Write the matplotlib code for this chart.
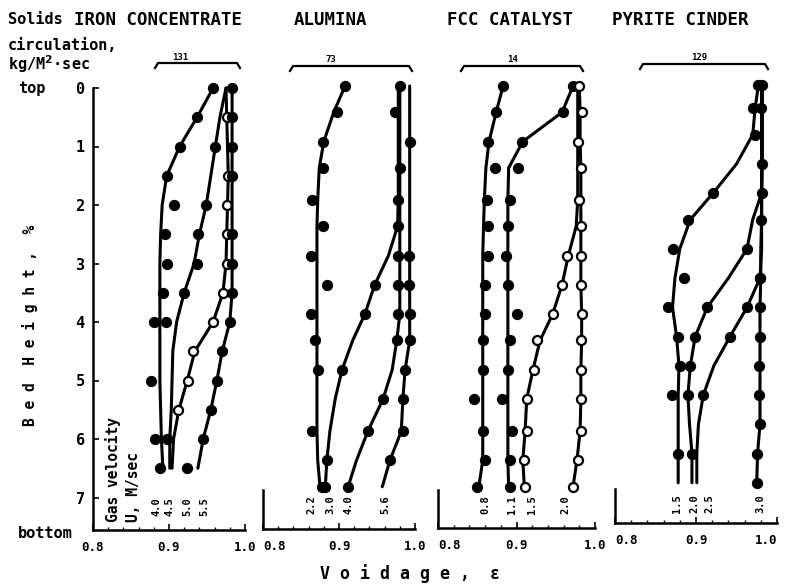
import numpy as np
import matplotlib
matplotlib.use("Agg")
import matplotlib.pyplot as plt
from matplotlib.lines import Line2D

nan = np.nan

# ---- data ----
# Iron concentrate (solids circulation 131)
iron_h = [0, 0.5, 1.0, 1.5, 2.0, 2.5, 3.0, 3.5, 4.0, 4.5, 5.0, 5.5, 6.0, 6.5]
iron_40_line = [0.958, 0.937, 0.914, 0.897, 0.891, 0.889, 0.888, 0.888, 0.888, 0.888, 0.888, 0.889, 0.890, 0.892]
iron_40_pts = [0.958, 0.937, 0.914, 0.897, 0.907, 0.895, 0.897, 0.892, 0.880, nan, 0.876, nan, 0.882, 0.888]
iron_45_line = [0.975, 0.967, 0.961, 0.955, 0.949, 0.940, 0.933, 0.920, 0.910, 0.905, 0.904, 0.903, 0.901, 0.901]
iron_45_pts = [nan, nan, 0.961, nan, 0.949, 0.938, 0.937, 0.920, 0.896, nan, nan, nan, 0.897, 0.924]
iron_50_line = [0.975, 0.976, 0.977, 0.978, 0.977, 0.976, 0.975, 0.971, 0.958, 0.934, 0.924, 0.913, 0.906, 0.904]
iron_50_pts = [nan, 0.976, nan, 0.978, 0.976, 0.976, 0.976, 0.971, 0.958, 0.932, 0.925, 0.912, nan, nan]
iron_55_line = [0.983, 0.983, 0.983, 0.983, 0.983, 0.983, 0.983, 0.983, 0.980, 0.970, 0.963, 0.955, 0.945, 0.938]
iron_55_pts = [0.983, 0.983, 0.983, 0.983, nan, 0.983, 0.983, 0.983, 0.980, 0.970, 0.963, 0.955, 0.945, nan]

# Alumina (73)
alu_h = [0, 0.45, 0.95, 1.4, 1.95, 2.4, 2.9, 3.4, 3.9, 4.35, 4.85, 5.35, 5.9, 6.4, 6.85]
alu_22_line = [0.908, 0.893, 0.880, 0.874, 0.872, 0.871, 0.871, 0.871, 0.871, 0.871, 0.871, 0.871, 0.871, 0.872, 0.875]
alu_22_pts = [0.908, 0.897, 0.879, 0.879, 0.864, 0.879, 0.863, 0.884, 0.863, 0.868, 0.872, nan, 0.864, nan, 0.878]
alu_30_line = [0.978, 0.978, 0.978, 0.978, 0.978, 0.977, 0.965, 0.947, 0.934, 0.918, 0.904, 0.895, 0.888, 0.884, 0.882]
alu_30_pts = [nan, nan, nan, nan, nan, nan, nan, 0.947, 0.934, nan, 0.904, nan, nan, 0.884, 0.882]
alu_40_line = [0.980, 0.980, 0.980, 0.980, 0.980, 0.980, 0.980, 0.980, 0.980, 0.976, 0.970, 0.958, 0.938, 0.923, 0.912]
alu_40_pts = [0.980, 0.974, nan, 0.980, 0.978, 0.978, 0.978, 0.978, 0.978, 0.976, nan, 0.958, 0.938, nan, 0.912]
alu_56_line = [0.993, 0.993, 0.993, 0.993, 0.993, 0.993, 0.993, 0.993, 0.993, 0.993, 0.987, 0.984, 0.982, 0.967, 0.957]
alu_56_pts = [nan, nan, 0.993, nan, nan, nan, 0.992, 0.992, 0.993, 0.993, 0.987, 0.984, 0.984, 0.967, nan]

# FCC catalyst (14)
fcc_h = [0, 0.45, 0.95, 1.4, 1.95, 2.4, 2.9, 3.4, 3.9, 4.35, 4.85, 5.35, 5.9, 6.4, 6.85]
fcc_08_line = [0.883, 0.874, 0.865, 0.861, 0.859, 0.858, 0.857, 0.857, 0.857, 0.857, 0.857, 0.857, 0.857, 0.857, 0.852]
fcc_08_pts = [0.883, 0.874, 0.864, 0.873, 0.862, 0.864, 0.864, 0.860, 0.860, 0.857, 0.857, 0.846, 0.857, 0.860, 0.850]
fcc_11_line = [0.972, 0.958, 0.908, 0.890, 0.889, 0.889, 0.889, 0.889, 0.889, 0.889, 0.889, 0.889, 0.889, 0.889, 0.890]
fcc_11_pts = [0.972, 0.959, 0.907, 0.902, 0.892, 0.889, 0.887, 0.889, 0.900, 0.892, 0.889, 0.881, 0.894, 0.892, 0.892]
fcc_15_line = [0.978, 0.978, 0.978, 0.978, 0.978, 0.976, 0.966, 0.958, 0.946, 0.930, 0.921, 0.913, 0.911, 0.908, 0.910]
fcc_15_pts = [nan, nan, nan, nan, nan, nan, 0.964, 0.958, 0.946, 0.926, 0.922, 0.913, 0.913, 0.910, 0.911]
fcc_20_line = [0.980, 0.981, 0.981, 0.982, 0.982, 0.982, 0.982, 0.982, 0.983, 0.983, 0.982, 0.982, 0.981, 0.977, 0.972]
fcc_20_pts = [0.980, 0.983, 0.978, 0.982, 0.980, 0.982, 0.982, 0.982, 0.984, 0.982, 0.982, 0.982, 0.982, 0.978, 0.972]

# Pyrite cinder (129)
pyr_h = [0, 0.4, 0.85, 1.35, 1.85, 2.3, 2.8, 3.3, 3.8, 4.3, 4.8, 5.3, 5.8, 6.3, 6.8]
pyr_15_line = [0.977, 0.973, 0.970, 0.950, 0.921, 0.893, 0.880, 0.874, 0.871, 0.876, 0.879, 0.878, 0.878, 0.878, 0.878]
pyr_15_pts = [0.977, 0.970, 0.973, nan, 0.921, 0.890, 0.872, 0.885, 0.865, 0.878, 0.880, 0.870, nan, 0.878, nan]
pyr_20_line = [0.981, 0.981, 0.981, 0.981, 0.981, 0.970, 0.963, 0.940, 0.914, 0.899, 0.893, 0.890, 0.892, 0.895, 0.895]
pyr_20_pts = [nan, nan, nan, nan, nan, nan, 0.963, nan, 0.914, 0.899, 0.893, 0.890, nan, 0.895, nan]
pyr_25_line = [0.981, 0.981, 0.981, 0.981, 0.981, 0.981, 0.981, 0.979, 0.963, 0.942, 0.922, 0.909, 0.903, 0.901, 0.901]
pyr_25_pts = [nan, nan, nan, nan, nan, nan, nan, 0.979, 0.963, 0.942, nan, 0.909, nan, nan, nan]
pyr_30_line = [0.982, 0.982, 0.982, 0.982, 0.981, 0.981, 0.980, 0.980, 0.979, 0.979, 0.979, 0.979, 0.979, 0.976, 0.975]
pyr_30_pts = [0.982, 0.980, nan, 0.982, 0.982, 0.980, nan, 0.979, 0.979, 0.979, 0.978, 0.978, 0.979, 0.975, 0.975]

titles = ["IRON CONCENTRATE", "ALUMINA", "FCC CATALYST", "PYRITE CINDER"]
circulation = ["131", "73", "14", "129"]
vel_labels = [["4.0", "4.5", "5.0", "5.5"], ["2.2", "3.0", "4.0", "5.6"],
              ["0.8", "1.1", "1.5", "2.0"], ["1.5", "2.0", "2.5", "3.0"]]
vel_label_x = [[0.884, 0.901, 0.924, 0.947], [0.864, 0.888, 0.912, 0.961],
               [0.860, 0.894, 0.920, 0.962], [0.877, 0.898, 0.917, 0.979]]

W, H = 786, 585
FONT = "DejaVu Sans Mono"
plt.rcParams['font.family'] = [FONT]
plt.rcParams['font.weight'] = 'bold'

fig = plt.figure(figsize=(W / 100, H / 100), dpi=100)
PX_PER_H = 58.5


def add_panel(left, right, top, bottom):
    ax = fig.add_axes([left / W, 1 - bottom / H, (right - left) / W, (bottom - top) / H])
    ax.set_xlim(0.8, 1.0)
    ax.set_ylim((bottom - top) / PX_PER_H, 0)
    return ax


axes = [add_panel(93, 245, 88, 530), add_panel(263, 415, 86, 529),
        add_panel(438, 595, 86, 528), add_panel(615, 777, 85, 523)]

panels = [
    (iron_h, [(iron_40_line, iron_40_pts, 'k'), (iron_45_line, iron_45_pts, 'k'),
              (iron_50_line, iron_50_pts, 'w'), (iron_55_line, iron_55_pts, 'k')]),
    (alu_h, [(alu_22_line, alu_22_pts, 'k'), (alu_30_line, alu_30_pts, 'k'),
             (alu_40_line, alu_40_pts, 'k'), (alu_56_line, alu_56_pts, 'k')]),
    (fcc_h, [(fcc_08_line, fcc_08_pts, 'k'), (fcc_11_line, fcc_11_pts, 'k'),
             (fcc_15_line, fcc_15_pts, 'w'), (fcc_20_line, fcc_20_pts, 'w')]),
    (pyr_h, [(pyr_15_line, pyr_15_pts, 'k'), (pyr_20_line, pyr_20_pts, 'k'),
             (pyr_25_line, pyr_25_pts, 'k'), (pyr_30_line, pyr_30_pts, 'k')]),
]

for i, (ax, (hh, curves)) in enumerate(zip(axes, panels)):
    for line, pts, face in curves:
        ax.plot(line, hh, color='black', lw=2.2, clip_on=False, solid_capstyle='round')
        ax.plot(pts, hh, 'o', ms=6.5, mfc=face, mec='black', mew=1.6, clip_on=False)
    for lab, xv in zip(vel_labels[i], vel_label_x[i]):
        ax.text(xv, 7.15, lab, rotation=90, ha='center', va='center', fontsize=7.5,
                fontweight='bold')

    for s in ['top', 'right']:
        ax.spines[s].set_visible(False)
    for s in ['left', 'bottom']:
        ax.spines[s].set_linewidth(1.8)
    ax.set_xticks([0.8, 0.9, 1.0])
    ax.set_xticklabels(["0.8", "0.9", "1.0"], fontsize=9, fontweight='bold')
    ax.set_xticks(np.arange(0.8, 1.0, 0.02), minor=True)
    ax.tick_params(axis='x', which='major', direction='in', length=4, width=1.2, pad=8)
    ax.tick_params(axis='x', which='minor', direction='in', length=2, width=1)
    if i == 0:
        ax.set_yticks(range(8))
        ax.set_yticklabels([str(k) for k in range(8)], fontsize=11, fontweight='bold')
        ax.tick_params(axis='y', direction='in', length=4, width=1.2, pad=6)
    else:
        ax.spines['left'].set_bounds(6.9, ax.get_ylim()[0])
        ax.set_yticks([])
        # the scan prints the 0.8 of these panels just right of the axis corner
        ax.get_xticklabels()[0].set_horizontalalignment('left')
    if i == 3:
        ax.get_xticklabels()[-1].set_horizontalalignment('right')

# titles and circulation brackets (pixel positions)
title_x = [158, 330, 510, 680]
bracket_spans = [(155, 240, 63), (290, 412, 66), (461, 583, 66), (640, 768, 64)]
circ_x = [180, 331, 513, 699]
for t, tx in zip(titles, title_x):
    fig.text(tx / W, 1 - 20 / H, t, ha='center', va='center', fontsize=12.5, fontweight='bold')
for (x0, x1, yb), c, cx in zip(bracket_spans, circulation, circ_x):
    xs = np.array([x0, x0 + 3, x1 - 3, x1]) / W
    ys = 1 - np.array([yb + 5, yb, yb, yb + 5]) / H
    fig.add_artist(Line2D(xs, ys, color='black', lw=1.6))
    fig.text(cx / W, 1 - (yb - 6) / H, c, ha='center', va='center', fontsize=6.5, fontweight='bold')

# left-hand annotations
fig.text(8 / W, 1 - 20 / H, "Solids", ha='left', va='center', fontsize=11, fontweight='bold')
fig.text(8 / W, 1 - 45 / H, "circulation,", ha='left', va='center', fontsize=11, fontweight='bold')
fig.text(8 / W, 1 - 64 / H, "kg/M$^\\mathbf{2}$·sec", ha='left', va='center', fontsize=11, fontweight='bold')
fig.text(18 / W, 1 - 88 / H, "top", ha='left', va='center', fontsize=11, fontweight='bold')
fig.text(18 / W, 1 - 534 / H, "bottom", ha='left', va='center', fontsize=11, fontweight='bold')
fig.text(30 / W, 1 - 325 / H, "B e d  H e i g h t ,  %", rotation=90, ha='center', va='center',
         fontsize=10.5, fontweight='bold')
fig.text(410 / W, 1 - 574 / H, "V o i d a g e ,  ε", ha='center', va='center',
         fontsize=12, fontweight='bold')
fig.text(113 / W, 1 - 522 / H, "Gas velocity", rotation=90, ha='center', va='bottom',
         fontsize=10.5, fontweight='bold')
fig.text(134 / W, 1 - 522 / H, "U, M/sec", rotation=90, ha='center', va='bottom',
         fontsize=10.5, fontweight='bold')

fig.savefig("out.png", dpi=100, facecolor='white')
